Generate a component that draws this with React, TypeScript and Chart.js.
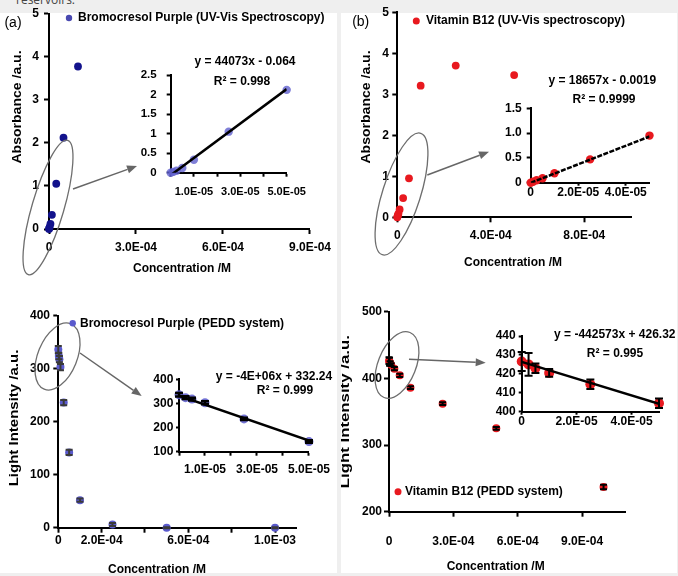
import React, { useEffect, useRef } from 'react';
import { Chart, registerables } from 'chart.js';

Chart.register(...registerables);

const FONT = '"Liberation Sans", Arial, Helvetica, sans-serif';
Chart.defaults.font.family = FONT;

// ---------- Panel (a): Bromocresol Purple, UV-Vis ----------
const aConc = [0, 1e-6, 2.5e-6, 5e-6, 1e-5, 2.5e-5, 5e-5, 1e-4];
const aAbs = [0, 0.02, 0.05, 0.12, 0.33, 1.05, 2.12, 3.77];
const aTrendX = [0, 5e-5];
const aTrendY = [-0.064, 2.14];
const aMainXTicks = [0, 3e-4, 6e-4, 9e-4];
const aMainYTicks = [0, 1, 2, 3, 4, 5];
const aInsetXTicks = [0, 1e-5, 2e-5, 3e-5, 4e-5, 5e-5];
const aInsetXLabels = [1e-5, 3e-5, 5e-5];
const aInsetYTicks = [0, 0.5, 1, 1.5, 2, 2.5];

// ---------- Panel (b): Vitamin B12, UV-Vis ----------
const bConc = [0, 1e-6, 2.5e-6, 5e-6, 1e-5, 2.5e-5, 5e-5, 1e-4, 2.5e-4, 5e-4];
const bAbs = [0, 0.02, 0.05, 0.09, 0.19, 0.47, 0.95, 3.21, 3.7, 3.47];
const bTrendX = [0, 5e-5];
const bTrendY = [-0.002, 0.931];
const bMainXTicks = [0, 4e-4, 8e-4];
const bMainYTicks = [0, 1, 2, 3, 4, 5];
const bInsetXTicks = [0, 2e-5, 4e-5];
const bInsetYTicks = [0, 0.5, 1, 1.5];

// ---------- Panel (c): Bromocresol Purple, PEDD ----------
const cConc = [0, 2.5e-6, 5e-6, 1e-5, 2.5e-5, 5e-5, 1e-4, 2.5e-4, 5e-4, 1e-3];
const cLight = [336, 324, 318, 303, 236, 142, 52, 6, 0, 0];
const cErr = [7, 6, 6, 6, 5, 5, 3, 3, 1, 1];
const cTrendX = [0, 5e-5];
const cTrendY = [332, 146];
const cMainXTicks = [0, 2e-4, 4e-4, 6e-4, 8e-4, 1e-3];
const cMainXLabels = [0, 2e-4, 6e-4, 1e-3];
const cMainYTicks = [0, 100, 200, 300, 400];
const cInsetXTicks = [0, 1e-5, 2e-5, 3e-5, 4e-5, 5e-5];
const cInsetXLabels = [1e-5, 3e-5, 5e-5];
const cInsetYTicks = [100, 200, 300, 400];

// ---------- Panel (d): Vitamin B12, PEDD ----------
const dConc = [0, 2.5e-6, 5e-6, 1e-5, 2.5e-5, 5e-5, 1e-4, 2.5e-4, 5e-4, 1e-3];
const dLight = [426.5, 425, 423, 420.5, 414.5, 404.5, 386, 362, 325, 237];
const dErr = [5, 6, 2.5, 2, 2.5, 2.5, 2, 2, 2, 3.5];
const dTrendX = [0, 5e-5];
const dTrendY = [426.3, 404.2];
const dMainXTicks = [0, 3e-4, 6e-4, 9e-4];
const dMainYTicks = [200, 300, 400, 500];
const dInsetXTicks = [0, 2e-5, 4e-5];
const dInsetYTicks = [400, 410, 420, 430, 440];

const INSET_MAX = 5e-5;

// ---------------- helpers ----------------
type Fmt = 'sci' | 'plain' | 'fixed1';
type Axis = {
  min: number; max: number; ticks: number[]; labels?: number[]; fmt: Fmt;
  size: number; tickLen: number; pad: number; width: number;
};
type TextItem = { text: string; x: number; y: number; size?: number; weight?: string; rot?: number; sx?: number; align?: CanvasTextAlign; color?: string };
type Decor = {
  ellipses?: { cx: number; cy: number; rx: number; ry: number; rot: number }[];
  arrows?: { x1: number; y1: number; x2: number; y2: number }[];
  legend?: { ds: number; x: number; y: number; r: number; tx: number; color?: string }[];
  texts?: TextItem[];
};
type Spec = {
  box: [number, number, number, number];
  area: { l: number; t: number; r: number; b: number };
  x: Axis; y: Axis;
  datasets: any[];
  errors?: { ds: number; vals: number[]; color: string; cap: number; width: number };
  decor: Decor;
};

const sci = (v: number) => {
  if (Math.abs(v) < 1e-15) return '0';
  let e = Math.floor(Math.log10(Math.abs(v)) + 1e-9);
  let m = v / Math.pow(10, e);
  if (Math.round(Math.abs(m) * 10) >= 100) { e += 1; m = v / Math.pow(10, e); }
  return m.toFixed(1) + 'E' + (e < 0 ? '-' : '+') + String(Math.abs(e)).padStart(2, '0');
};

const fmtTick = (a: Axis, v: number) => {
  if (a.labels && !a.labels.includes(v)) return '';
  if (a.fmt === 'sci') return sci(v);
  if (a.fmt === 'fixed1') return v === 0 ? '0' : v.toFixed(1);
  return String(+v.toFixed(3));
};

const insetIdx = (xs: number[]) => xs.map((x, i) => (x <= INSET_MAX * 1.0001 ? i : -1)).filter(i => i >= 0);
const sub = (xs: number[], arr: number[]) => insetIdx(xs).map(i => arr[i]);

const pts = (label: string, xs: number[], ys: number[], color: string, r: number) => ({
  label,
  data: xs.map((x, i) => ({ x, y: ys[i] })),
  backgroundColor: color,
  borderColor: color,
  pointBackgroundColor: color,
  pointBorderColor: color,
  pointBorderWidth: 0,
  pointRadius: r,
  pointHoverRadius: r,
  showLine: false,
  clip: false,
});

const trend = (xs: number[], ys: number[], dash: number[] = []) => ({
  label: '',
  data: xs.map((x, i) => ({ x, y: ys[i] })),
  showLine: true,
  borderColor: '#000',
  backgroundColor: '#000',
  borderWidth: 2.5,
  borderDash: dash,
  pointRadius: 0,
  pointHoverRadius: 0,
});

const font = (size = 12, weight = 'bold') => `${weight} ${size}px ${FONT}`;

const decorPlugin = (spec: Spec) => ({
  id: 'decor',
  afterDraw(chart: any) {
    const ctx: CanvasRenderingContext2D = chart.ctx;
    const [ox, oy] = spec.box;
    const d = spec.decor;
    ctx.save();
    for (const e of d.ellipses ?? []) {
      ctx.beginPath();
      ctx.ellipse(e.cx - ox, e.cy - oy, e.rx, e.ry, e.rot, 0, Math.PI * 2);
      ctx.strokeStyle = '#6e6e6e';
      ctx.lineWidth = 1.3;
      ctx.stroke();
    }
    for (const a of d.arrows ?? []) {
      const x1 = a.x1 - ox, y1 = a.y1 - oy, x2 = a.x2 - ox, y2 = a.y2 - oy;
      const ang = Math.atan2(y2 - y1, x2 - x1);
      const hl = 10, hw = 4;
      const bx = x2 - hl * Math.cos(ang), by = y2 - hl * Math.sin(ang);
      ctx.strokeStyle = '#666';
      ctx.fillStyle = '#666';
      ctx.lineWidth = 1.5;
      ctx.beginPath(); ctx.moveTo(x1, y1); ctx.lineTo(bx, by); ctx.stroke();
      ctx.beginPath();
      ctx.moveTo(x2, y2);
      ctx.lineTo(bx + hw * Math.sin(ang), by - hw * Math.cos(ang));
      ctx.lineTo(bx - hw * Math.sin(ang), by + hw * Math.cos(ang));
      ctx.closePath(); ctx.fill();
    }
    for (const l of d.legend ?? []) {
      const ds = chart.data.datasets[l.ds];
      ctx.fillStyle = l.color ?? ds.backgroundColor;
      ctx.beginPath(); ctx.arc(l.x - ox, l.y - oy, l.r, 0, Math.PI * 2); ctx.fill();
      ctx.fillStyle = '#000';
      ctx.font = font(12);
      ctx.textAlign = 'left';
      ctx.textBaseline = 'middle';
      ctx.fillText(ds.label, l.tx - ox, l.y - oy);
    }
    for (const t of d.texts ?? []) {
      ctx.save();
      ctx.translate(t.x - ox, t.y - oy);
      if (t.rot) ctx.rotate((t.rot * Math.PI) / 180);
      if (t.sx) ctx.scale(t.sx, 1);
      ctx.font = font(t.size ?? 12, t.weight ?? 'bold');
      ctx.textAlign = t.align ?? 'center';
      ctx.textBaseline = 'middle';
      ctx.fillStyle = t.color ?? '#000';
      ctx.fillText(t.text, 0, 0);
      ctx.restore();
    }
    ctx.restore();
  },
});

const errorPlugin = (spec: Spec) => ({
  id: 'errbars',
  afterDatasetsDraw(chart: any) {
    const eb = spec.errors;
    if (!eb) return;
    const ctx: CanvasRenderingContext2D = chart.ctx;
    const meta = chart.getDatasetMeta(eb.ds);
    const ys = chart.scales.y;
    const data = chart.data.datasets[eb.ds].data;
    ctx.save();
    ctx.strokeStyle = eb.color;
    ctx.lineWidth = eb.width;
    meta.data.forEach((el: any, i: number) => {
      const e = eb.vals[i];
      if (!e) return;
      const y1 = ys.getPixelForValue(data[i].y + e);
      const y2 = ys.getPixelForValue(data[i].y - e);
      const x = el.x;
      ctx.beginPath();
      ctx.moveTo(x, y1); ctx.lineTo(x, y2);
      ctx.moveTo(x - eb.cap, y1); ctx.lineTo(x + eb.cap, y1);
      ctx.moveTo(x - eb.cap, y2); ctx.lineTo(x + eb.cap, y2);
      ctx.stroke();
    });
    ctx.restore();
  },
});

const axisOpts = (a: Axis, isX: boolean, spec: Spec) => {
  const [bx, by, , bh] = spec.box;
  return {
    type: 'linear',
    position: isX ? 'bottom' : 'left',
    min: a.min,
    max: a.max,
    border: { display: true, color: '#000', width: a.width },
    grid: {
      display: true, drawOnChartArea: false, drawTicks: true,
      tickLength: a.tickLen, tickColor: '#000', tickWidth: a.width, color: '#000',
    },
    ticks: {
      autoSkip: false, maxRotation: 0, minRotation: 0, padding: a.pad, color: '#000',
      font: { family: FONT, size: a.size, weight: 'bold' },
      callback: (v: number) => fmtTick(a, v),
    },
    afterBuildTicks: (s: any) => { s.ticks = a.ticks.map(v => ({ value: v })); },
    afterFit: (s: any) => {
      if (isX) s.height = by + bh - spec.area.b;
      else s.width = spec.area.l - bx;
    },
  };
};

const buildConfig = (spec: Spec): any => {
  const [bx, by, bw] = spec.box;
  return {
    type: 'scatter',
    data: { datasets: spec.datasets },
    options: {
      responsive: false,
      animation: false,
      events: [],
      layout: {
        autoPadding: false,
        padding: { top: spec.area.t - by, right: bx + bw - spec.area.r, left: 0, bottom: 0 },
      },
      plugins: { legend: { display: false }, tooltip: { enabled: false } },
      scales: { x: axisOpts(spec.x, true, spec), y: axisOpts(spec.y, false, spec) },
    },
    plugins: [errorPlugin(spec), decorPlugin(spec)],
  };
};

// ---------------- chart specs ----------------
const SPECS: Spec[] = [
  // (a) main
  {
    box: [0, 0, 337, 290], area: { l: 49, t: 13.5, r: 313, b: 229 },
    x: { min: 0, max: 9e-4, ticks: aMainXTicks, fmt: 'sci', size: 12, tickLen: 5, pad: 6, width: 2 },
    y: { min: 0, max: 5, ticks: aMainYTicks, fmt: 'plain', size: 12, tickLen: 5, pad: 5, width: 2 },
    datasets: [pts('Bromocresol Purple (UV-Vis Spectroscopy)', aConc, aAbs, '#12128c', 3.9)],
    decor: {
      ellipses: [{ cx: 48, cy: 207.5, rx: 16, ry: 70, rot: 0.285 }],
      arrows: [{ x1: 73, y1: 189, x2: 137, y2: 166 }],
      legend: [{ ds: 0, x: 69, y: 18, r: 3.2, tx: 78, color: '#4848b0' }],
      texts: [
        { text: '(a)', x: 13, y: 23, size: 14, weight: 'normal' },
        { text: 'Absorbance /a.u.', x: 18, y: 107, rot: -90, sx: 1.17 },
        { text: 'Concentration /M', x: 182, y: 269 },
      ],
    },
  },
  // (a) inset
  {
    box: [120, 45, 217, 165], area: { l: 170.7, t: 75, r: 286.7, b: 172.7 },
    x: { min: 0, max: 5e-5, ticks: aInsetXTicks, labels: aInsetXLabels, fmt: 'sci', size: 11, tickLen: 4, pad: 9, width: 2 },
    y: { min: 0, max: 2.5, ticks: aInsetYTicks, fmt: 'plain', size: 11.5, tickLen: 4, pad: 10, width: 2 },
    datasets: [trend(aTrendX, aTrendY), pts('', sub(aConc, aConc), sub(aConc, aAbs), 'rgba(96,96,206,0.8)', 4.2)],
    decor: {
      texts: [
        { text: 'y = 44073x - 0.064', x: 245, y: 62 },
        { text: 'R² = 0.998', x: 242, y: 81.5 },
      ],
    },
  },
  // (b) main
  {
    box: [341, 0, 337, 290], area: { l: 397.3, t: 12.3, r: 631, b: 217.3 },
    x: { min: 0, max: 1e-3, ticks: bMainXTicks, fmt: 'sci', size: 12, tickLen: 5, pad: 6.5, width: 2 },
    y: { min: 0, max: 5, ticks: bMainYTicks, fmt: 'plain', size: 12, tickLen: 5, pad: 3.3, width: 2 },
    datasets: [pts('Vitamin B12 (UV-Vis spectroscopy)', bConc, bAbs, '#e8191f', 3.9)],
    decor: {
      ellipses: [{ cx: 401.5, cy: 194, rx: 19, ry: 63.7, rot: 0.307 }],
      arrows: [{ x1: 427.3, y1: 175, x2: 489, y2: 151.7 }],
      legend: [{ ds: 0, x: 416.3, y: 21, r: 3.5, tx: 426 }],
      texts: [
        { text: '(b)', x: 360.7, y: 22.3, size: 14, weight: 'normal' },
        { text: 'Absorbance /a.u.', x: 367, y: 107, rot: -90, sx: 1.17 },
        { text: 'Concentration /M', x: 513, y: 263 },
      ],
    },
  },
  // (b) inset
  {
    box: [470, 70, 208, 150], area: { l: 530.7, t: 108.3, r: 649.5, b: 182.7 },
    x: { min: 0, max: 5e-5, ticks: bInsetXTicks, fmt: 'sci', size: 12, tickLen: 3, pad: 0, width: 2 },
    y: { min: 0, max: 1.5, ticks: bInsetYTicks, fmt: 'fixed1', size: 12, tickLen: 4, pad: 5, width: 2 },
    datasets: [trend(bTrendX, bTrendY, [5, 1.5]), pts('', sub(bConc, bConc), sub(bConc, bAbs), '#e8191f', 4.2)],
    decor: {
      texts: [
        { text: 'y = 18657x - 0.0019', x: 602.3, y: 81 },
        { text: 'R² = 0.9999', x: 604, y: 100 },
      ],
    },
  },
  // (c) main
  {
    box: [0, 290, 337, 283], area: { l: 58.3, t: 315.7, r: 296.7, b: 527.7 },
    x: { min: 0, max: 1.1e-3, ticks: cMainXTicks, labels: cMainXLabels, fmt: 'sci', size: 12, tickLen: 5, pad: 1, width: 2 },
    y: { min: 0, max: 400, ticks: cMainYTicks, fmt: 'plain', size: 12, tickLen: 5, pad: 3.3, width: 2 },
    datasets: [pts('Bromocresol Purple (PEDD system)', cConc, cLight, '#5a5acd', 4)],
    errors: { ds: 0, vals: cErr, color: '#3a3a3a', cap: 3.5, width: 2 },
    decor: {
      ellipses: [{ cx: 57.5, cy: 356.5, rx: 19.6, ry: 35.3, rot: 0.387 }],
      arrows: [{ x1: 80, y1: 353, x2: 141.7, y2: 396 }],
      legend: [{ ds: 0, x: 72.7, y: 323.3, r: 3.2, tx: 80 }],
      texts: [
        { text: 'Light Intensity /a.u.', x: 15, y: 418, rot: -90, sx: 1.25 },
        { text: 'Concentration /M', x: 157, y: 570 },
      ],
    },
  },
  // (c) inset
  {
    box: [130, 340, 207, 135], area: { l: 179, t: 379.3, r: 310, b: 451.7 },
    x: { min: 0, max: 5e-5, ticks: cInsetXTicks, labels: cInsetXLabels, fmt: 'sci', size: 12, tickLen: 4, pad: 7, width: 2 },
    y: { min: 100, max: 400, ticks: cInsetYTicks, fmt: 'plain', size: 12, tickLen: 3, pad: 2.7, width: 2 },
    datasets: [trend(cTrendX, cTrendY), pts('', sub(cConc, cConc), sub(cConc, cLight), 'rgba(90,90,205,0.85)', 4.5)],
    errors: { ds: 1, vals: sub(cConc, cErr), color: '#000', cap: 4, width: 2.5 },
    decor: {
      texts: [
        { text: 'y = -4E+06x + 332.24', x: 274, y: 377 },
        { text: 'R² = 0.999', x: 285, y: 390.5 },
      ],
    },
  },
  // (d) main
  {
    box: [341, 290, 337, 283], area: { l: 389, t: 311.7, r: 625, b: 511.7 },
    x: { min: 0, max: 1.1e-3, ticks: dMainXTicks, fmt: 'sci', size: 12, tickLen: 5, pad: 17.8, width: 2 },
    y: { min: 200, max: 500, ticks: dMainYTicks, fmt: 'plain', size: 12, tickLen: 5, pad: 2, width: 2 },
    datasets: [pts('Vitamin B12 (PEDD system)', dConc, dLight, '#e8191f', 4)],
    errors: { ds: 0, vals: dErr, color: '#000', cap: 3.5, width: 2 },
    decor: {
      ellipses: [{ cx: 397, cy: 365, rx: 19, ry: 35, rot: 0.38 }],
      arrows: [{ x1: 409, y1: 359.3, x2: 485.7, y2: 362.7 }],
      legend: [{ ds: 0, x: 398, y: 491.7, r: 3.5, tx: 405 }],
      texts: [
        { text: 'Light Intensity /a.u.', x: 345.7, y: 411.7, rot: -90, sx: 1.4 },
        { text: 'Concentration /M', x: 495.7, y: 566.7 },
      ],
    },
  },
  // (d) inset
  {
    box: [470, 320, 208, 110], area: { l: 521.7, t: 336, r: 659, b: 411.7 },
    x: { min: 0, max: 5e-5, ticks: dInsetXTicks, fmt: 'sci', size: 12, tickLen: 3, pad: 0, width: 2 },
    y: { min: 400, max: 440, ticks: dInsetYTicks, fmt: 'plain', size: 12, tickLen: 3, pad: 3, width: 2 },
    datasets: [trend(dTrendX, dTrendY), pts('', sub(dConc, dConc), sub(dConc, dLight), '#e8191f', 5)],
    errors: { ds: 1, vals: sub(dConc, dErr), color: '#000', cap: 4, width: 2 },
    decor: {
      texts: [
        { text: 'y = -442573x + 426.32', x: 614.8, y: 335 },
        { text: 'R² = 0.995', x: 615, y: 353.3 },
      ],
    },
  },
];

export default function App() {
  const refs = useRef<(HTMLCanvasElement | null)[]>([]);
  useEffect(() => {
    const charts = SPECS.map((s, i) => new Chart(refs.current[i] as HTMLCanvasElement, buildConfig(s)));
    return () => charts.forEach(c => c.destroy());
  }, []);
  const gray = '#efefef';
  return (
    <div style={{ position: 'fixed', left: 0, top: 0, width: 678, height: 576, background: '#fff', overflow: 'hidden' }}>
      <div style={{ position: 'absolute', left: 0, top: 0, width: 678, height: 13, background: gray }} />
      <div style={{ position: 'absolute', left: 16, top: -6, fontFamily: '"Open Sans", sans-serif', fontSize: 12, lineHeight: '12px', color: '#444', whiteSpace: 'nowrap' }}>reservoirs.</div>
      <div style={{ position: 'absolute', left: 337, top: 0, width: 4, height: 576, background: gray }} />
      <div style={{ position: 'absolute', left: 0, top: 573, width: 678, height: 3, background: gray }} />
      <div style={{ position: 'absolute', left: 677, top: 0, width: 1, height: 576, background: gray }} />
      {SPECS.map((s, i) => (
        <canvas
          key={i}
          ref={el => { refs.current[i] = el; }}
          width={s.box[2]}
          height={s.box[3]}
          style={{ position: 'absolute', left: s.box[0], top: s.box[1], width: s.box[2], height: s.box[3] }}
        />
      ))}
    </div>
  );
}
